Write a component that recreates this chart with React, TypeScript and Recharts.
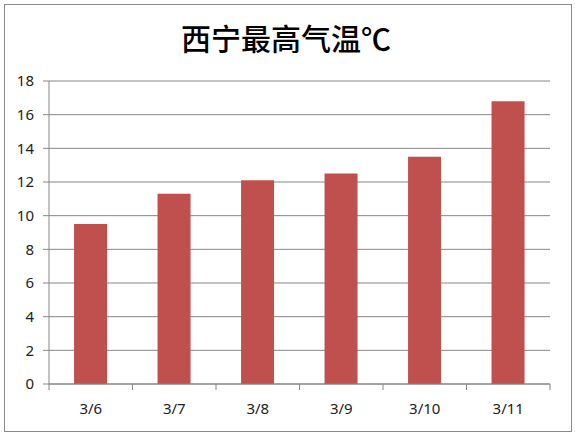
import React from 'react';
import { BarChart, Bar, XAxis, YAxis, CartesianGrid } from 'recharts';

const dates = ['3/6', '3/7', '3/8', '3/9', '3/10', '3/11'];
const highTemps = [9.5, 11.3, 12.1, 12.5, 13.5, 16.8];
const yTicks = [0, 2, 4, 6, 8, 10, 12, 14, 16, 18];

const data = dates.map((d, i) => ({ date: d, temp: highTemps[i] }));

const AXIS = '#868686';
const TICK_FONT = '"Noto Sans", "DejaVu Sans", sans-serif';

// x ticks: label in the middle of the band, tick mark on the band edges (Excel style)
// y comes in below the axis by tickSize + tickMargin (6 + 2)
const DateTick = (props: any) => {
  const { x, y, payload, index } = props;
  const half = payload && payload.offset ? payload.offset : 41.8;
  const axisY = y - 8;
  return (
    <g>
      <line x1={x - half} y1={axisY} x2={x - half} y2={axisY + 6} stroke={AXIS} />
      {index === dates.length - 1 && (
        <line x1={x + half} y1={axisY} x2={x + half} y2={axisY + 6} stroke={AXIS} />
      )}
      <text x={x} y={axisY + 30} textAnchor="middle" fontSize={15} fontFamily={TICK_FONT} fill="#222">
        {payload.value}
      </text>
    </g>
  );
};

export default function App() {
  return (
    <div style={{ position: 'absolute', left: 0, top: 0, width: 575, height: 434, background: '#fff' }}>
      <div
        style={{
          position: 'absolute',
          left: 4,
          top: 4,
          width: 566,
          height: 426,
          border: '1px solid #8a8a8a',
        }}
      />
      <div
        style={{
          position: 'absolute',
          left: 0,
          top: 18,
          width: 572,
          textAlign: 'center',
          fontFamily: '"Noto Sans CJK SC", serif',
          fontSize: 30,
          fontWeight: 500,
          lineHeight: '38px',
          color: '#000',
        }}
      >
        西宁最高气温℃
      </div>
      <div style={{ position: 'absolute', left: 0, top: 0 }}>
        <BarChart
          width={575}
          height={434}
          data={data}
          margin={{ top: 81, right: 25, bottom: 0, left: 0 }}
          barCategoryGap="30%"
        >
          <CartesianGrid vertical={false} stroke={AXIS} strokeWidth={1} />
          <XAxis
            dataKey="date"
            axisLine={{ stroke: AXIS }}
            tickLine={false}
            tick={<DateTick />}
            interval={0}
            height={50}
          />
          <YAxis
            domain={[0, 18]}
            ticks={yTicks}
            interval={0}
            width={49}
            axisLine={{ stroke: AXIS }}
            tickLine={{ stroke: AXIS }}
            tickSize={6}
            tickMargin={9}
            tick={{ fontSize: 15, fontFamily: TICK_FONT, fill: '#222' }}
          />
          <Bar dataKey="temp" fill="#c0504d" isAnimationActive={false} />
        </BarChart>
      </div>
    </div>
  );
}
